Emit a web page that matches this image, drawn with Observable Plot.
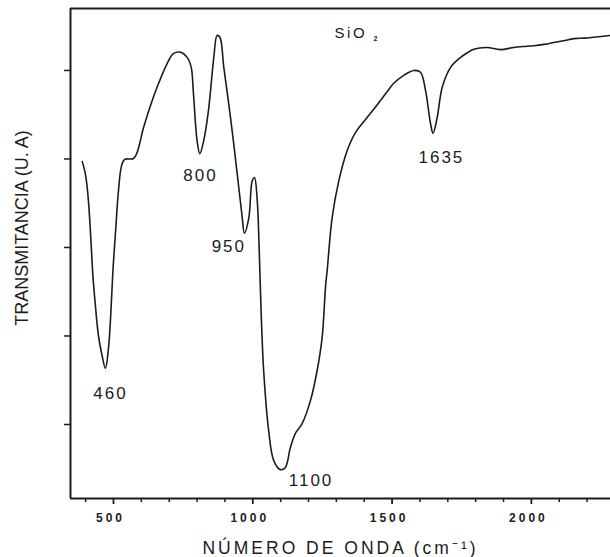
<!DOCTYPE html>
<html><head><meta charset="utf-8">
<script src="https://cdn.jsdelivr.net/npm/d3@7"></script>
<script src="https://cdn.jsdelivr.net/npm/@observablehq/plot@0.6"></script>
<style>body{margin:0;background:#fff}</style>
</head><body><div id="chart"></div>
<script>
// Spectrum (wavenumber in cm^-1, transmittance in arbitrary units)
const wavenumber = [388, 400, 410, 419, 426, 435, 446, 459, 471, 482, 491, 498, 507, 518, 529, 540, 572, 585, 608, 639, 662, 693, 715, 741, 765, 779, 787, 800, 810, 824, 841, 860, 872, 882, 896, 920, 944, 962, 970, 986, 998, 1006, 1016, 1022, 1026, 1031, 1039, 1057, 1075, 1099, 1117, 1135, 1153, 1177, 1207, 1231, 1249, 1261, 1267, 1285, 1309, 1339, 1369, 1411, 1435, 1458, 1482, 1506, 1542, 1578, 1602, 1620, 1638, 1647, 1662, 1680, 1710, 1745, 1770, 1793, 1841, 1889, 1937, 1970, 2009, 2045, 2080, 2115, 2152, 2190, 2224, 2284];
const transmittance = [79.4, 76.3, 70.6, 61.6, 53.7, 46.9, 40.1, 35.6, 32.7, 37.2, 45.8, 54.8, 63.2, 72.9, 78.5, 79.9, 80.1, 81.5, 87.1, 93.2, 97.1, 101.6, 103.8, 104.1, 102.9, 100.7, 94.8, 84.2, 81.2, 84.2, 91.0, 102.9, 107.9, 107.5, 100.7, 89.4, 76.7, 66.8, 63.2, 66.8, 75.1, 75.8, 70.6, 61.6, 53.2, 43.5, 32.2, 18.6, 11.9, 9.8, 10.3, 14.8, 18.0, 20.2, 25.4, 32.2, 39.7, 51.0, 54.8, 66.8, 75.1, 81.9, 86.0, 89.4, 91.3, 93.2, 95.2, 97.1, 98.9, 100.0, 99.6, 95.5, 88.0, 85.8, 89.4, 96.2, 100.7, 102.9, 104.0, 104.8, 105.2, 104.7, 105.2, 105.4, 105.6, 105.9, 106.3, 106.7, 107.2, 107.3, 107.5, 107.9];

const peakLabels = ["460", "800", "950", "1100", "1635"];
const peakLabelX = [489, 812, 914, 1209, 1677];
const peakLabelY = [27.1, 76.2, 60.1, 7.3, 80.4];

const majorTicks = [500, 1000, 1500, 2000];
const minorTicks = [400, 600, 700, 800, 900, 1100, 1200, 1300, 1400, 1600, 1700, 1800, 1900, 2100, 2200];
const yTicks = [20, 40, 60, 80, 100];

const xDomain = [345.7, 2284];
const yDomain = [3.28, 114];

const titleMain = "SiO";
const titleSub = "2";
const titleX = [1352, 1440];
const titleY = [108.4, 107.2];
const xLabel = "NÚMERO DE ONDA (cm⁻¹)";
const yLabel = "TRANSMITANCIA (U. A)";
const yLabelPos = 64.4;

const spectrum = wavenumber.map((w, i) => ({w, t: transmittance[i]}));
const peaks = peakLabels.map((s, i) => ({s, x: peakLabelX[i], y: peakLabelY[i]}));
const ink = "#1c1c1c";

const svg = Plot.plot({
  width: 610,
  height: 557,
  marginTop: 8,
  marginLeft: 70,
  marginRight: 0,
  marginBottom: 59,
  style: {fontFamily: "'Liberation Sans', Arial, sans-serif", background: "#fff", color: ink},
  x: {domain: xDomain, label: null},
  y: {domain: yDomain, label: null},
  marks: [
    Plot.axisX({ticks: minorTicks, tickSize: 4, tickFormat: () => "", label: null, stroke: ink, strokeWidth: 1.5}),
    Plot.axisX({ticks: majorTicks, tickSize: 6, tickFormat: () => "", label: null, stroke: ink, strokeWidth: 1.8}),
    Plot.axisY({ticks: yTicks, tickSize: 6, tickFormat: () => "", label: null, stroke: ink, strokeWidth: 1.5}),
    Plot.ruleX([xDomain[0]], {stroke: ink, strokeWidth: 2}),
    Plot.ruleY([yDomain[0]], {stroke: ink, strokeWidth: 2}),
    Plot.ruleY([yDomain[1]], {stroke: ink, strokeWidth: 2}),
    Plot.line(spectrum, {x: "w", y: "t", stroke: ink, strokeWidth: 1.6, curve: "catmull-rom"}),
    Plot.text(majorTicks, {x: d => d, frameAnchor: "bottom", lineAnchor: "middle", textAnchor: "middle", dy: 20, dx: -3, text: d => String(d), fontSize: 12, fontWeight: "bold", fill: ink}),
    Plot.text(peaks, {x: "x", y: "y", text: "s", fontSize: 17, fill: ink}),
    Plot.text([titleMain], {x: titleX[0], y: titleY[0], text: d => d, fontSize: 15, fill: ink}),
    Plot.text([titleSub], {x: titleX[1], y: titleY[1], text: d => d, fontSize: 7, fontWeight: "bold", fill: ink}),
    Plot.text([xLabel], {frameAnchor: "bottom", lineAnchor: "middle", textAnchor: "middle", dy: 50, text: d => d, fontSize: 17.5, fill: ink}),
    Plot.text([yLabel], {y: yLabelPos, frameAnchor: "left", textAnchor: "middle", lineAnchor: "middle", dx: -48, rotate: -90, text: d => d, fontSize: 18, fill: ink})
  ]
});

// letter spacing as in the scanned original
const spacing = new Map([
  ...majorTicks.map(t => [String(t), "3px"]),
  ...peakLabels.map(t => [t, "2px"]),
  [titleMain, "2.5px"],
  [xLabel, "3px"]
]);
d3.select(svg).selectAll("text").each(function () {
  const ls = spacing.get(this.textContent);
  if (ls) this.setAttribute("letter-spacing", ls);
});
document.getElementById("chart").appendChild(svg);
</script>
</body></html>
